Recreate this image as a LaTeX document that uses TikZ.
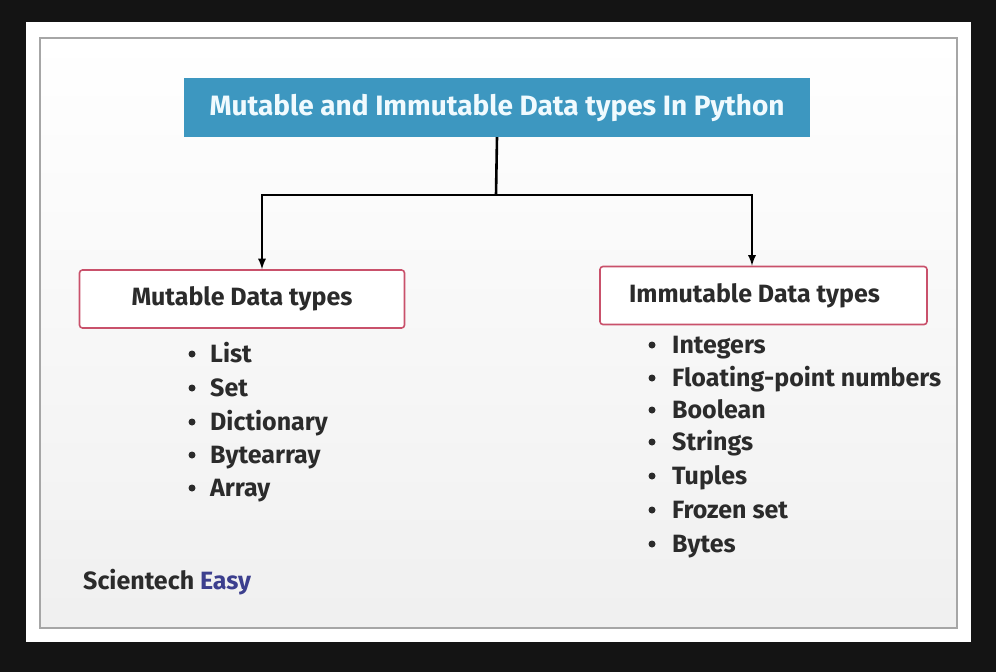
\documentclass[tikz,border=0pt]{standalone}
\usepackage{fontspec}
\setmainfont{Fira Sans}
\usepackage{tikz}
\definecolor{titleblue}{HTML}{3D97C0}
\definecolor{boxred}{HTML}{C9516B}
\definecolor{easyblue}{HTML}{3C3F8E}
\definecolor{ink}{HTML}{2B2B2B}
\begin{document}
\begin{tikzpicture}[x=1pt,y=-1pt,
  hd/.style={fill=titleblue,text=cyan!6,font=\bfseries\fontsize{28}{32}\selectfont,
    minimum width=626pt,minimum height=59pt,inner sep=0},
  bx/.style={draw=boxred,line width=1.6pt,rounded corners=3pt,fill=white,
    minimum width=325pt,minimum height=58pt,inner sep=0,
    font=\bfseries\fontsize{25}{30}\selectfont,text=ink},
  it/.style={anchor=base west,inner sep=0,font=\bfseries\fontsize{25}{30}\selectfont,text=ink},
  dot/.style={circle,fill=ink,inner sep=0,minimum size=7pt},
  ar/.style={-latex,line width=2.6pt}]
\useasboundingbox (0,0) rectangle (996,672);
\fill[black!92] (0,0) rectangle (996,672);
\fill[white] (26,22) rectangle (971,642);
\shade[top color=white,bottom color=gray!12] (40,38) rectangle (957,628);
\draw[gray!70,line width=1.5pt] (40,38) rectangle (957,628);
\node[hd] (title) at (497,107.5) {Mutable and Immutable Data types In Python};
\node[bx] (mut) at (242,299) {Mutable Data types};
\node[bx,minimum width=327pt] (imm) at (763.5,295.5) {\hspace*{-18pt}Immutable Data types};
\coordinate (j) at (496,195);
\coordinate (jl) at (262,195);
\coordinate (jr) at (752,195);
\draw[line width=2.6pt] (title.south) -- (j);
\draw[line width=2.6pt,line cap=rect] (jl) -- (jr);
\draw[ar] (jl) -- (jl |- mut.north);
\draw[ar] (jr) -- (jr |- imm.north);
% mutable list
\foreach \i/\t/\y in {1/List/354,2/Set/388,3/Dictionary/422,4/Bytearray/455,5/Array/488} {
  \node[dot] (mb\i) at (192,\y) {};
  \node[it] (m\i) at (210,\y+8.5) {\t};
}
% immutable list
\foreach \i/\t/\y in {1/Integers/345,2/Floating-point numbers/378,3/Boolean/410,
  4/Strings/442,5/Tuples/476,6/Frozen set/510,7/Bytes/544} {
  \node[dot] (ib\i) at (652,\y) {};
  \node[it] (i\i) at (672,\y+8.5) {\t};
}
\node[it] (logo) at (83,589.5) {Scientech \textcolor{easyblue}{Easy}};
\end{tikzpicture}
\end{document}
